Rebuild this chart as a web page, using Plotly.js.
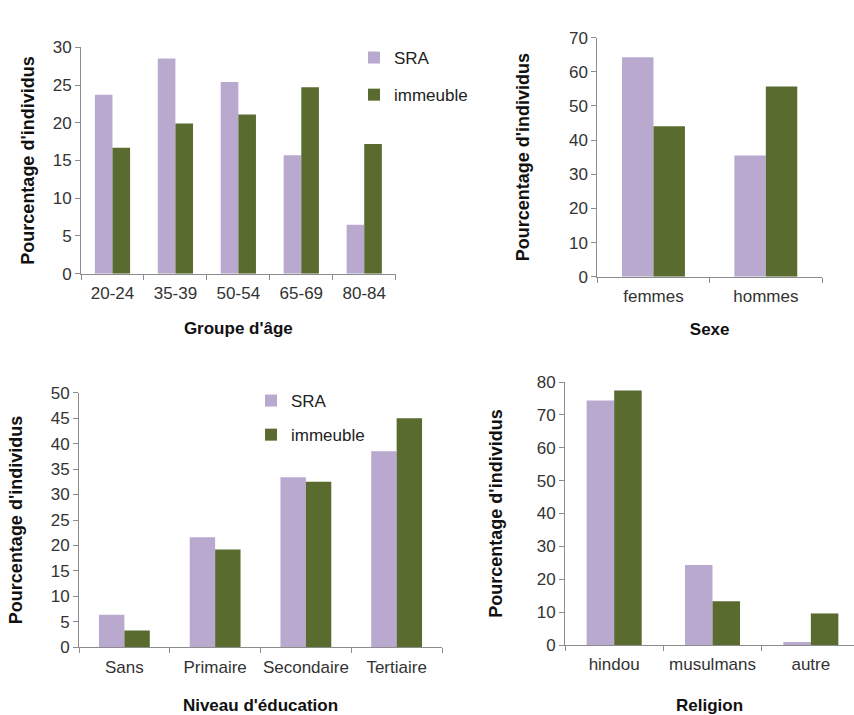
<!DOCTYPE html>
<html>
<head>
<meta charset="utf-8">
<script src="https://cdn.plot.ly/plotly-3.0.1.min.js"></script>
<style>html,body{margin:0;padding:0;background:#fff;}#chart{width:854px;height:715px;}</style>
</head>
<body>
<div id="chart"></div>
<script>
// ---- data ----
const ageGroups = ["20-24", "35-39", "50-54", "65-69", "80-84"];
const ageSRA = [23.7, 28.5, 25.4, 15.7, 6.5];
const ageImmeuble = [16.7, 19.9, 21.1, 24.7, 17.2];

const sexes = ["femmes", "hommes"];
const sexSRA = [64.3, 35.5];
const sexImmeuble = [44.1, 55.7];

const eduLevels = ["Sans", "Primaire", "Secondaire", "Tertiaire"];
const eduSRA = [6.4, 21.6, 33.4, 38.5];
const eduImmeuble = [3.3, 19.2, 32.5, 45.0];

const religions = ["hindou", "musulmans", "autre"];
const relSRA = [74.4, 24.3, 0.9];
const relImmeuble = [77.4, 13.3, 9.6];

const seriesNames = ["SRA", "immeuble"];
const yTitle = "Pourcentage d'individus";
const xTitles = ["Groupe d'âge", "Sexe", "Niveau d'éducation", "Religion"];

// ---- style ----
const W = 854, H = 715;
const cSRA = "#BAA9CF";
const cImm = "#5A6B30";
const FONT = "Liberation Sans, Arial, sans-serif";
const tickFont = {family: FONT, size: 17, color: "#333333"};
const titleFont = {family: FONT, size: 17, color: "#111111", weight: "bold"};

function px(x0, x1, y0, y1) {
  return {x: [x0 / W, Math.min(1, x1 / W)], y: [1 - y1 / H, 1 - y0 / H]};
}

const panels = [
  {cats: ageGroups, a: ageSRA, b: ageImmeuble, ymax: 30, dtick: 5, dom: px(81, 395.7, 47.3, 273.7), legend: "legend", show: true, xt: 0, range: null, ystand: 13, xstand: 20},
  {cats: sexes, a: sexSRA, b: sexImmeuble, ymax: 70, dtick: 10, dom: px(597.3, 822, 37.7, 276.7), legend: "legend", show: false, xt: 1, range: null, ystand: 34, xstand: 18},
  {cats: eduLevels, a: eduSRA, b: eduImmeuble, ymax: 50, dtick: 5, dom: px(79, 442, 392.7, 647.3), legend: "legend2", show: true, xt: 2, range: null, ystand: 23, xstand: 32},
  {cats: religions, a: relSRA, b: relImmeuble, ymax: 80, dtick: 10, dom: px(565, 854, 382, 645), legend: "legend", show: false, xt: 3, range: [-0.5, 2.5 - 6 / 98.3], ystand: 29, xstand: 33}
];

const data = [];
const layout = {
  width: W, height: H,
  margin: {l: 0, r: 0, t: 0, b: 0},
  paper_bgcolor: "#ffffff",
  plot_bgcolor: "#ffffff",
  barmode: "group",
  bargap: 0.44,
  bargroupgap: 0,
  font: {family: FONT, color: "#333333"},
  legend: {x: 354 / W, xanchor: "left", y: 1 - 40 / H, yanchor: "top", font: {family: FONT, size: 17, color: "#222"}, traceorder: "grouped", tracegroupgap: 12, bgcolor: "rgba(0,0,0,0)"},
  legend2: {x: 251 / W, xanchor: "left", y: 1 - 383 / H, yanchor: "top", font: {family: FONT, size: 17, color: "#222"}, traceorder: "grouped", tracegroupgap: 9, bgcolor: "rgba(0,0,0,0)"}
};

panels.forEach((p, i) => {
  const n = i === 0 ? "" : String(i + 1);
  const xa = "x" + n, ya = "y" + n;
  data.push({type: "bar", x: p.cats, y: p.a, name: seriesNames[0], marker: {color: cSRA}, xaxis: xa, yaxis: ya, showlegend: p.show, legend: p.legend, legendgroup: p.legend + "a", hoverinfo: "x+y+name"});
  data.push({type: "bar", x: p.cats, y: p.b, name: seriesNames[1], marker: {color: cImm}, xaxis: xa, yaxis: ya, showlegend: p.show, legend: p.legend, legendgroup: p.legend + "b", hoverinfo: "x+y+name"});
  layout["xaxis" + n] = {
    domain: p.dom.x, anchor: ya, type: "category",
    range: p.range || [-0.5, p.cats.length - 0.5],
    showline: true, linecolor: "#8c8c8c", linewidth: 1,
    ticks: "outside", tickson: "boundaries", ticklen: 5, tickcolor: "#8c8c8c",
    ticklabelstandoff: 4, tickangle: 0,
    showgrid: false, zeroline: false, tickfont: tickFont,
    title: {text: xTitles[p.xt], font: titleFont, standoff: p.xstand},
    fixedrange: true
  };
  layout["yaxis" + n] = {
    domain: p.dom.y, anchor: xa, range: [0, p.ymax], dtick: p.dtick,
    showline: true, linecolor: "#8c8c8c", linewidth: 1,
    ticks: "outside", ticklen: 5, tickcolor: "#8c8c8c",
    showgrid: false, zeroline: false, tickfont: tickFont,
    title: {text: yTitle, font: {family: FONT, size: 18, color: "#111111", weight: "bold"}, standoff: p.ystand},
    fixedrange: true
  };
});

Plotly.newPlot("chart", data, layout, {displayModeBar: false, staticPlot: true});
</script>
</body>
</html>
